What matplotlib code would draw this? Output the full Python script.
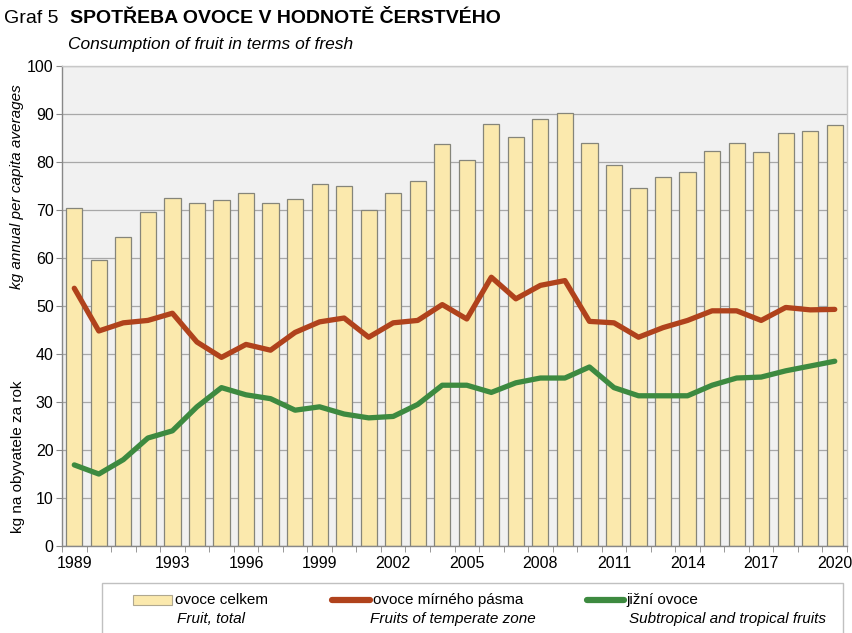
import matplotlib
matplotlib.use("Agg")
import matplotlib.pyplot as plt
import numpy as np
from matplotlib.patches import Rectangle
from matplotlib.lines import Line2D

plt.rcParams['font.family'] = ['Liberation Sans', 'DejaVu Sans']

years = list(range(1989, 2021))
total = [70.5, 59.5, 64.3, 69.5, 72.6, 71.4, 72.0, 73.5, 71.4, 72.4,
         75.5, 75.0, 70.1, 73.5, 76.0, 83.8, 80.5, 88.0, 85.3, 89.0,
         90.3, 84.0, 79.3, 74.5, 76.8, 77.9, 82.3, 84.0, 82.1, 86.0,
         86.4, 87.7]
temperate = [53.7, 44.8, 46.5, 47.0, 48.5, 42.5, 39.3, 42.0, 40.8, 44.5,
             46.7, 47.5, 43.5, 46.5, 47.0, 50.3, 47.3, 56.0, 51.5, 54.3,
             55.3, 46.8, 46.5, 43.5, 45.5, 47.0, 49.0, 49.0, 47.0, 49.7,
             49.2, 49.3]
southern = [16.9, 15.0, 18.0, 22.5, 24.0, 29.0, 33.0, 31.5, 30.7, 28.3,
            29.0, 27.5, 26.7, 27.0, 29.5, 33.5, 33.5, 32.0, 34.0, 35.0,
            35.0, 37.3, 33.0, 31.3, 31.3, 31.3, 33.5, 35.0, 35.2, 36.5,
            37.5, 38.5]
label_years = [1989, 1993, 1996, 1999, 2002, 2005, 2008, 2011, 2014, 2017, 2020]

bar_color = '#fbe9ad'
red = '#b0421c'
green = '#3d8a40'
grid_gray = '#a8a8a8'

fig = plt.figure(figsize=(8.53, 6.33), dpi=100)
ax = fig.add_axes([0.0727, 0.1374, 0.9203, 0.7583])
ax.set_facecolor('#f1f1f1')

x = np.arange(len(years))
ax.bar(x, total, width=0.66, color=bar_color, edgecolor='#85857a', linewidth=0.9, zorder=2)
ax.plot(x, temperate, color=red, lw=3.8, zorder=3, solid_capstyle='round')
ax.plot(x, southern, color=green, lw=3.8, zorder=3, solid_capstyle='round')

ax.set_xlim(-0.5, len(years) - 0.5)
ax.set_ylim(0, 100)
ax.set_yticks(range(0, 101, 10))
ax.yaxis.grid(True, color=grid_gray, lw=0.9, zorder=1)
ax.set_axisbelow(True)

ax.set_xticks([years.index(y) for y in label_years])
ax.set_xticklabels([str(y) for y in label_years])
ax.set_xticks(np.arange(-0.5, len(years), 1), minor=True)
ax.tick_params(axis='x', which='major', length=0, pad=7, labelsize=11.5)
ax.tick_params(axis='x', which='minor', length=4, color='#888888', direction='out')
ax.tick_params(axis='y', length=4, color='#888888', labelsize=11.5, pad=2)

for side in ['top', 'right']:
    ax.spines[side].set_color('#c8c8c8')
for side in ['left', 'bottom']:
    ax.spines[side].set_color('#888888')
for s in ax.spines.values():
    s.set_linewidth(1.0)

# y labels (Czech + English)
fig.text(0.021, 0.278, 'kg na obyvatele za rok', rotation=90, ha='center', va='center', fontsize=11)
fig.text(0.020, 0.705, 'kg annual per capita averages', rotation=90, ha='center', va='center',
         fontsize=11, style='italic')

# title
fig.text(0.005, 0.971, 'Graf 5', fontsize=14, ha='left', va='center')
fig.text(0.082, 0.971, 'SPOTŘEBA OVOCE V HODNOTĚ ČERSTVÉHO', fontsize=14, fontweight='bold',
         ha='left', va='center')
fig.text(0.08, 0.930, 'Consumption of fruit in terms of fresh', fontsize=12.5, style='italic',
         ha='left', va='center')

# legend box
fig.add_artist(Rectangle((0.119, -0.01), 0.869, 0.089, transform=fig.transFigure,
                         facecolor='white', edgecolor='#c0c0c0', lw=1.0))
ly = 0.052
ly2 = 0.022
fig.add_artist(Rectangle((0.156, ly - 0.008), 0.046, 0.016, transform=fig.transFigure,
                         facecolor=bar_color, edgecolor='#b0a890', lw=0.8))
fig.text(0.205, ly, 'ovoce celkem', fontsize=11, va='center')
fig.text(0.207, ly2, 'Fruit, total', fontsize=11, va='center', style='italic')
fig.add_artist(Line2D([0.389, 0.434], [ly, ly], transform=fig.transFigure, color=red, lw=4.5,
                      solid_capstyle='round'))
fig.text(0.437, ly, 'ovoce mírného pásma', fontsize=11, va='center')
fig.text(0.434, ly2, 'Fruits of temperate zone', fontsize=11, va='center', style='italic')
fig.add_artist(Line2D([0.688, 0.731], [ly, ly], transform=fig.transFigure, color=green, lw=4.5,
                      solid_capstyle='round'))
fig.text(0.734, ly, 'jižní ovoce', fontsize=11, va='center')
fig.text(0.737, ly2, 'Subtropical and tropical fruits', fontsize=11, va='center', style='italic')

fig.savefig('out.png', dpi=100)
